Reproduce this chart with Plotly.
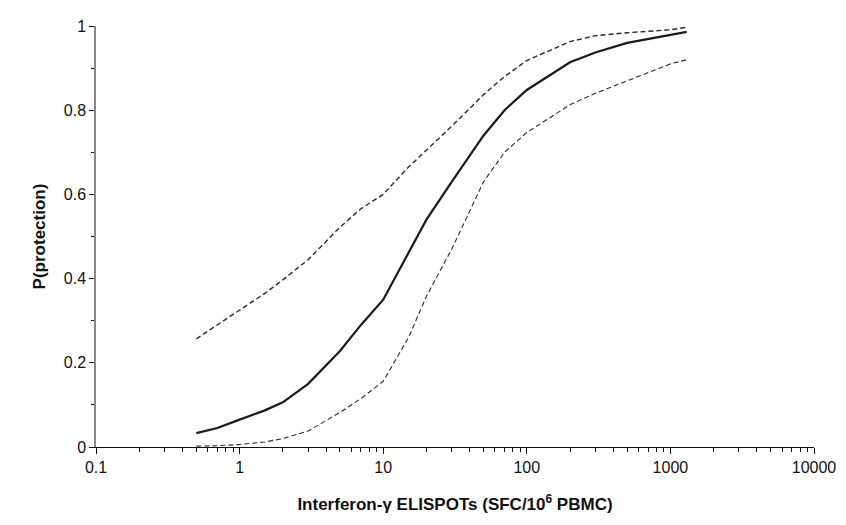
import plotly.graph_objects as go

# Data (x in SFC/10^6 PBMC, log axis)
elispot = [0.5, 0.7, 1, 1.5, 2, 3, 5, 7, 10, 15, 20, 30, 50, 70, 100, 200, 300, 500, 1000, 1300]
p_mean = [0.033, 0.045, 0.065, 0.087, 0.106, 0.15, 0.228, 0.29, 0.35, 0.46, 0.54, 0.63, 0.74, 0.80, 0.848, 0.914, 0.937, 0.960, 0.980, 0.986]
p_upper = [0.257, 0.29, 0.325, 0.365, 0.397, 0.445, 0.522, 0.566, 0.60, 0.665, 0.705, 0.762, 0.837, 0.88, 0.918, 0.963, 0.977, 0.984, 0.991, 0.997]
p_lower = [0.002, 0.003, 0.006, 0.012, 0.02, 0.038, 0.082, 0.115, 0.156, 0.26, 0.358, 0.47, 0.63, 0.70, 0.747, 0.813, 0.84, 0.87, 0.91, 0.92]

x_tickvals = [0.1, 1, 10, 100, 1000, 10000]
x_ticktext = ["0.1", "1", "10", "100", "1000", "10000"]
y_tickvals = [0, 0.2, 0.4, 0.6, 0.8, 1]
y_ticktext = ["0", "0.2", "0.4", "0.6", "0.8", "1"]

x_minor = [m * 10 ** e for e in range(-1, 4) for m in range(2, 10)]
y_minor = [0.1, 0.3, 0.5, 0.7, 0.9]

fig = go.Figure()
fig.add_trace(go.Scatter(x=elispot, y=p_upper, mode="lines",
                         line=dict(color="#2a2a2a", width=1.4, dash="5px,3px"), showlegend=False))
fig.add_trace(go.Scatter(x=elispot, y=p_lower, mode="lines",
                         line=dict(color="#2a2a2a", width=1.1, dash="5px,3px"), showlegend=False))
fig.add_trace(go.Scatter(x=elispot, y=p_mean, mode="lines",
                         line=dict(color="#1a1a1a", width=2.2), showlegend=False))

font = "Liberation Sans, Arial, sans-serif"
fig.update_layout(
    width=838, height=517,
    margin=dict(l=88, r=26, t=10, b=78),
    paper_bgcolor="white", plot_bgcolor="white",
    font=dict(family=font, size=16, color="#111111"),
    xaxis=dict(
        type="log", range=[-1, 4],
        tickmode="array", tickvals=x_tickvals, ticktext=x_ticktext,
        ticks="outside", ticklen=6, tickcolor="#111111", tickwidth=1,
        showline=True, linecolor="#111111", linewidth=1.2,
        showgrid=False, zeroline=False,
        minor=dict(tickmode="array", tickvals=x_minor, ticks="outside", ticklen=4,
                   tickcolor="#111111", showgrid=False),
        title=dict(text="<b>Interferon-γ ELISPOTs (SFC/10<sup>6</sup> PBMC)</b>",
                   font=dict(family=font, size=17), standoff=22),
        tickfont=dict(size=16),
    ),
    yaxis=dict(
        range=[0, 1],
        tickmode="array", tickvals=y_tickvals, ticktext=y_ticktext,
        ticks="outside", ticklen=5, tickcolor="#111111", tickwidth=1,
        showline=True, linecolor="#888888", linewidth=1.5,
        showgrid=False, zeroline=False,
        minor=dict(tickmode="array", tickvals=y_minor, ticks="outside", ticklen=3,
                   tickcolor="#111111", showgrid=False),
        title=dict(text="<b>P(protection)</b>", font=dict(family=font, size=17), standoff=14),
        tickfont=dict(size=16),
    ),
)

fig.write_html("out.html")
